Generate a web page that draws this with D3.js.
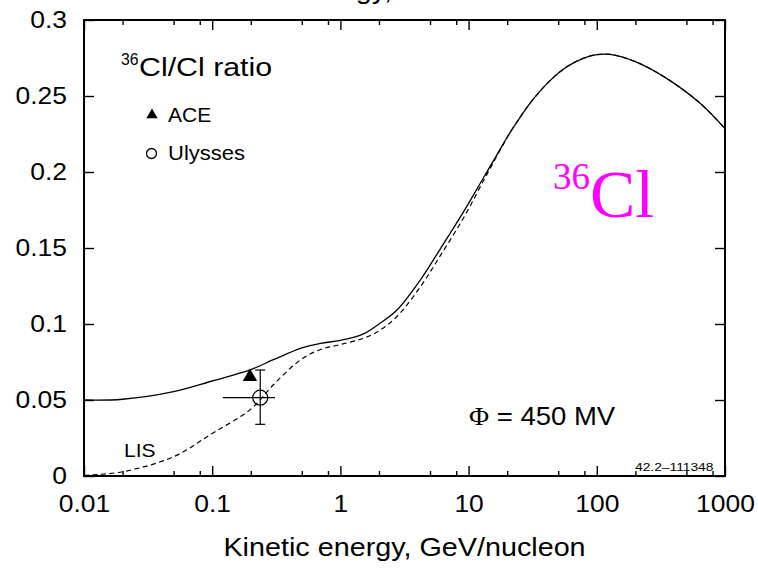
<!DOCTYPE html>
<html>
<head>
<meta charset="utf-8">
<script src="https://cdn.jsdelivr.net/npm/d3@7"></script>
<style>
  body { margin: 0; background: #fff; }
  svg { display: block; }
  .sans { font-family: "Liberation Sans", Arial, sans-serif; }
  .serif { font-family: "Liberation Serif", "Times New Roman", serif; }
</style>
</head>
<body>
<svg width="758" height="568"></svg>
<script>
let svg = d3.select("svg");

// kinetic energy grid, GeV/nucleon
let energy = [0.01, 0.02, 0.05, 0.1, 0.2, 0.3, 0.5, 0.7, 1, 1.5, 2, 2.75, 4.2, 6, 9.1, 13,
              17.6, 21, 25.2, 30.1, 36.1, 43.2, 51.6, 61.8, 78.5, 100, 127, 200, 350, 640, 1000];

// modulated ratio (solid), phi = 450 MV
let modulated = [0.0500, 0.0505, 0.0555, 0.0625, 0.0700, 0.0765, 0.0843, 0.0873, 0.0892, 0.0933,
                 0.1000, 0.1090, 0.1289, 0.1493, 0.1736, 0.1959, 0.2149, 0.2258, 0.2360, 0.2452,
                 0.2532, 0.2601, 0.2659, 0.2705, 0.2748, 0.2772, 0.2774, 0.2726, 0.2616, 0.2452,
                 0.2285];

// local interstellar spectrum ratio (dashed)
let lis = [0.0005, 0.0028, 0.0127, 0.0280, 0.0440, 0.0600, 0.0770, 0.0832, 0.0865, 0.0905,
           0.0955, 0.1048, 0.1244, 0.1448, 0.1696, 0.1939, 0.2144, 0.2258, 0.2360, 0.2452,
           0.2532, 0.2601, 0.2659, 0.2705, 0.2748, 0.2772, 0.2774, 0.2726, 0.2616, 0.2452,
           0.2285];

// measurements
let ace = [{e: 0.197, r: 0.0652, rlo: 0.0635, rhi: 0.0675}];
let ulysses = [{e: 0.237, r: 0.0515, elo: 0.121, ehi: 0.309, rlo: 0.034, rhi: 0.0697}];

let xMajor = [0.01, 0.1, 1, 10, 100, 1000];
let xMajorLabels = ["0.01", "0.1", "1", "10", "100", "1000"];
let xMinor = [0.02, 0.05, 0.08, 0.2, 0.5, 0.8, 2, 5, 8, 20, 50, 80, 200, 500, 800];
let yTicks = [0, 0.05, 0.1, 0.15, 0.2, 0.25, 0.3];
let yLabels = ["0", "0.05", "0.1", "0.15", "0.2", "0.25", "0.3"];

let plotL = 84, plotR = 725, plotT = 20, plotB = 476;
let stretch = 1.15; // the original lettering is a bit wider than Arial

let x = d3.scaleLog().domain([0.01, 1000]).range([plotL, plotR]);
let y = d3.scaleLinear().domain([0, 0.3]).range([plotB, plotT]);

// text helper, with a horizontal stretch
function label(px, py, str, size, sx, cls, anchor) {
    return svg.append("text").attr("class", cls)
        .attr("transform", `translate(${px},${py}) scale(${sx},1)`)
        .attr("font-size", size)
        .attr("text-anchor", anchor || "start")
        .text(str);
}

// partially clipped title at the very top
label(392, -1, "Kinetic energy,", 25, stretch, "sans", "end");

// axes: inward ticks
function styleAxis(g) {
    g.select(".domain").remove();
    g.selectAll("line").attr("stroke", "#000").attr("stroke-width", 1.4);
    g.selectAll("text").attr("class", "sans").attr("font-size", 23).attr("fill", "#000")
        .attr("transform", `scale(${stretch},1)`);
}

svg.append("g").attr("transform", `translate(0,${plotB})`)
    .call(d3.axisBottom(x).tickValues(xMajor).tickSize(-10).tickPadding(20)
        .tickFormat((d, i) => xMajorLabels[i]))
    .call(styleAxis);
svg.append("g").attr("transform", `translate(0,${plotB})`)
    .call(d3.axisBottom(x).tickValues(xMinor).tickSize(-5).tickFormat(""))
    .call(styleAxis);
svg.append("g").attr("transform", `translate(0,${plotT})`)
    .call(d3.axisTop(x).tickValues(xMajor).tickSize(-10).tickFormat(""))
    .call(styleAxis);
svg.append("g").attr("transform", `translate(0,${plotT})`)
    .call(d3.axisTop(x).tickValues(xMinor).tickSize(-5).tickFormat(""))
    .call(styleAxis);
svg.append("g").attr("transform", `translate(${plotL},0)`)
    .call(d3.axisLeft(y).tickValues(yTicks).tickSize(-10).tickPadding(17 / stretch)
        .tickFormat((d, i) => yLabels[i]))
    .call(styleAxis);
svg.append("g").attr("transform", `translate(${plotR},0)`)
    .call(d3.axisRight(y).tickValues(yTicks).tickSize(-10).tickFormat(""))
    .call(styleAxis);

svg.append("rect")
    .attr("x", plotL).attr("y", plotT)
    .attr("width", plotR - plotL).attr("height", plotB - plotT)
    .attr("fill", "none").attr("stroke", "#000").attr("stroke-width", 2);

// curves
let line = d3.line()
    .x(d => x(d[0]))
    .y(d => y(d[1]))
    .curve(d3.curveCatmullRom.alpha(0.5));

svg.append("path")
    .datum(energy.map((e, i) => [e, lis[i]]))
    .attr("d", line)
    .attr("fill", "none").attr("stroke", "#000").attr("stroke-width", 1.2)
    .attr("stroke-dasharray", "5,3.5");

svg.append("path")
    .datum(energy.map((e, i) => [e, modulated[i]]))
    .attr("d", line)
    .attr("fill", "none").attr("stroke", "#000").attr("stroke-width", 1.3);

// Ulysses point with error bars
let uly = svg.append("g").selectAll("g").data(ulysses).enter().append("g");
uly.append("line")
    .attr("x1", d => x(d.elo)).attr("x2", d => x(d.ehi))
    .attr("y1", d => y(d.r)).attr("y2", d => y(d.r))
    .attr("stroke", "#000").attr("stroke-width", 1.2);
uly.append("line")
    .attr("x1", d => x(d.e)).attr("x2", d => x(d.e))
    .attr("y1", d => y(d.rlo)).attr("y2", d => y(d.rhi))
    .attr("stroke", "#000").attr("stroke-width", 1.2);
uly.append("line")
    .attr("x1", d => x(d.e) - 5).attr("x2", d => x(d.e) + 5)
    .attr("y1", d => y(d.rlo)).attr("y2", d => y(d.rlo))
    .attr("stroke", "#000").attr("stroke-width", 1.2);
uly.append("line")
    .attr("x1", d => x(d.e) - 5).attr("x2", d => x(d.e) + 5)
    .attr("y1", d => y(d.rhi)).attr("y2", d => y(d.rhi))
    .attr("stroke", "#000").attr("stroke-width", 1.2);
uly.append("circle")
    .attr("cx", d => x(d.e)).attr("cy", d => y(d.r)).attr("r", 7.5)
    .attr("fill", "none").attr("stroke", "#000").attr("stroke-width", 1.2);

// ACE point
let triangle = d3.symbol().type(d3.symbolTriangle);
let acePts = svg.append("g").selectAll("g").data(ace).enter().append("g");
acePts.append("line")
    .attr("x1", d => x(d.e)).attr("x2", d => x(d.e))
    .attr("y1", d => y(d.rlo)).attr("y2", d => y(d.rhi))
    .attr("stroke", "#000").attr("stroke-width", 1.2);
acePts.append("path")
    .attr("d", triangle.size(90))
    .attr("transform", d => `translate(${x(d.e)},${y(d.r)})`)
    .attr("fill", "#000");

// legend
label(121, 65, "36", 17, 0.93, "sans");
label(139, 76, "Cl/Cl ratio", 25.5, 1.19, "sans");
svg.append("path").attr("d", triangle.size(55))
    .attr("transform", "translate(152,115)").attr("fill", "#000");
label(168, 121.5, "ACE", 20, 1.05, "sans");
svg.append("circle").attr("cx", 151.5).attr("cy", 153.5).attr("r", 5)
    .attr("fill", "none").attr("stroke", "#000").attr("stroke-width", 1.3);
label(168, 159.5, "Ulysses", 20, 1.1, "sans");

// annotations
label(124, 456.5, "LIS", 17.5, 1.2, "sans");

let phi = label(469, 425, "", 25, 1.1, null);
phi.append("tspan").attr("class", "serif").text("\u03A6");
phi.append("tspan").attr("class", "sans").text(" = 450 MV");

label(635, 470.5, "42.2\u2013111348", 11.5, 1.2, "sans");

svg.append("text").attr("class", "serif").attr("x", 553).attr("y", 188.5)
    .attr("font-size", 37).attr("fill", "#ff00ff").text("36");
svg.append("text").attr("class", "serif").attr("x", 590).attr("y", 216.5)
    .attr("font-size", 68).attr("fill", "#ff00ff").text("Cl");

// x axis title
label((plotL + plotR) / 2, 556, "Kinetic energy, GeV/nucleon", 25, stretch, "sans", "middle");
</script>
</body>
</html>
